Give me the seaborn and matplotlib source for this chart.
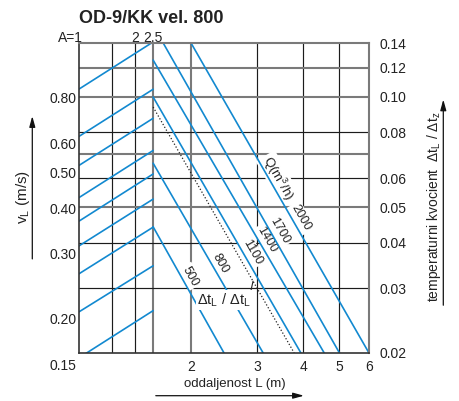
import numpy as np
import pandas as pd
import matplotlib
matplotlib.use("Agg")
import matplotlib.pyplot as plt
import seaborn as sns
from matplotlib.patches import FancyArrowPatch
from matplotlib.ticker import NullLocator

# ---------------- data ----------------
TITLE = "OD-9/KK vel. 800"
X_LABEL = "oddaljenost L (m)"
LEFT_LABEL = r"v$_\mathregular{L}$ (m/s)"
RIGHT_LABEL = r"temperaturni kvocient  Δt$_\mathregular{L}$ / Δt$_\mathregular{z}$"
REF_LABEL = r"Δt$_\mathregular{L}$ / Δt$_\mathregular{L}$"
Q_UNIT_LABEL = r"Q(m$^\mathregular{3}$/h)"

L_TICKS = [2, 3, 4, 5, 6]
L_TICK_LABELS = ["2", "3", "4", "5", "6"]
A_TICKS = [1, 2, 2.5]
A_TICK_LABELS = ["A=1", "2", "2.5"]
A_GRID_BLACK = [1.5, 2.0]
A_GRID_GRAY = [2.5]
L_GRID_GRAY = [2.0]
L_GRID_BLACK = [3.0, 4.0, 5.0]

DT_TICKS = [0.02, 0.03, 0.04, 0.05, 0.06, 0.08, 0.10, 0.12, 0.14]
DT_TICK_LABELS = ["0.02", "0.03", "0.04", "0.05", "0.06", "0.08", "0.10", "0.12", "0.14"]
DT_GRID_GRAY = [0.05, 0.07, 0.10, 0.12]
DT_GRID_BLACK = [0.03, 0.04, 0.06, 0.08]

V_TICKS = [0.15, 0.20, 0.30, 0.40, 0.50, 0.60, 0.80]
V_TICK_LABELS = ["0.15", "0.20", "0.30", "0.40", "0.50", "0.60", "0.80"]
V_PER_DT = 8.05          # v_L scale relative to the Δt scale

# rising lines in the A section: Δt at A=1 and at A=2.5
A_RANGE = [1.0, 2.5]
UP_DT_A1 = [0.1050, 0.0780, 0.0650, 0.0531, 0.0458, 0.0392, 0.0329, 0.0259, 0.0194]
UP_DT_A25 = [0.1412, 0.1049, 0.0874, 0.0714, 0.0616, 0.0526, 0.0441, 0.0346, 0.0261]

# falling Q lines
Q_VALUES = ["500", "800", "1100", "1400", "1700", "2000"]
Q_L_START = [1.581, 1.581, 1.581, 1.581, 1.684, 2.0]
Q_DT_START = [0.0442, 0.0659, 0.0999, 0.126, 0.14, 0.14]
Q_L_END = [2.45, 3.12, 3.94, 4.55, 5.0, 6.0]
Q_DT_END = [0.02, 0.02, 0.02, 0.02, 0.02, 0.02]
Q_LABEL_DT = [0.0324, 0.0352, 0.0377, 0.0409, 0.0431, 0.0467]
Q_UNIT_DT = 0.060

# dotted reference line
REF_L = [1.581, 3.78]
REF_DT = [0.0938, 0.02]
REF_LABEL_L = 2.449
REF_LABEL_DT = 0.0279
REF_POINT_DT = 0.0314

# ---------------- style ----------------
BLUE = "#1289d0"
GRID_GRAY = "#7a7a7a"
GRID_BLACK = "#1c1c1c"

sns.set_style("white")
plt.rcParams["font.family"] = ["Liberation Sans", "DejaVu Sans"]
plt.rcParams["mathtext.fontset"] = "custom"
plt.rcParams["mathtext.rm"] = "Liberation Sans"
plt.rcParams["mathtext.it"] = "Liberation Sans:italic"
plt.rcParams["mathtext.bf"] = "Liberation Sans:bold"
plt.rcParams["text.color"] = "#222222"

W, H = 460, 401
fig = plt.figure(figsize=(W / 100, H / 100), dpi=100)
ax = fig.add_axes([79 / W, 48 / H, 290 / W, 309.7 / H])
ax.set_xscale("log")
ax.set_yscale("log")


def fpx(x, y):
    return (x / W, 1 - y / H)


# grid
for a in A_GRID_BLACK:
    ax.axvline(np.sqrt(a), color=GRID_BLACK, lw=0.85, zorder=1)
for a in A_GRID_GRAY:
    ax.axvline(np.sqrt(a), color=GRID_GRAY, lw=1.5, zorder=1)
for v in L_GRID_BLACK:
    ax.axvline(v, color=GRID_BLACK, lw=0.85, zorder=1)
for v in L_GRID_GRAY:
    ax.axvline(v, color=GRID_GRAY, lw=1.5, zorder=1)
for v in DT_GRID_BLACK:
    ax.axhline(v, color=GRID_BLACK, lw=0.85, zorder=1)
for v in DT_GRID_GRAY:
    ax.axhline(v, color=GRID_GRAY, lw=1.5, zorder=1)

# rising lines (A section)
L_A = np.sqrt(A_RANGE)
up_df = pd.DataFrame({
    "L": np.tile(L_A, len(UP_DT_A1)),
    "dt": np.column_stack([UP_DT_A1, UP_DT_A25]).ravel(),
    "line": np.repeat(np.arange(len(UP_DT_A1)), 2),
})
sns.lineplot(data=up_df, x="L", y="dt", units="line", estimator=None, sort=False,
             color=BLUE, lw=1.2, ax=ax, legend=False, zorder=4)

# Q lines
q_df = pd.DataFrame({
    "L": np.column_stack([Q_L_START, Q_L_END]).ravel(),
    "dt": np.column_stack([Q_DT_START, Q_DT_END]).ravel(),
    "Q": np.repeat(Q_VALUES, 2),
})
sns.lineplot(data=q_df, x="L", y="dt", units="Q", estimator=None, sort=False,
             color=BLUE, lw=1.2, ax=ax, legend=False, zorder=4)

# dotted reference line
ref_df = pd.DataFrame({"L": REF_L, "dt": REF_DT})
sns.lineplot(data=ref_df, x="L", y="dt", estimator=None, sort=False, color="#222222",
             lw=0.9, linestyle=(0, (1.0, 1.6)), ax=ax, legend=False, zorder=4)

ax.set_xlim(1, 6)
ax.set_ylim(0.02, 0.14)
ax.set_xlabel("")
ax.set_ylabel("")

# ticks
ax.set_xticks(L_TICKS, L_TICK_LABELS)
ax.xaxis.set_minor_locator(NullLocator())
ax.yaxis.tick_right()
ax.set_yticks(DT_TICKS, DT_TICK_LABELS)
ax.yaxis.set_minor_locator(NullLocator())
ax.tick_params(axis="x", length=0, pad=5, labelsize=10, labelcolor="#222222")
ax.tick_params(axis="y", length=0, pad=7.5, labelsize=10, labelcolor="#222222")

for side in ["top", "right"]:
    ax.spines[side].set_color(GRID_GRAY)
    ax.spines[side].set_linewidth(1.5)
for side in ["left", "bottom"]:
    ax.spines[side].set_color("#333333")
    ax.spines[side].set_linewidth(1.2)
    ax.spines[side].set_visible(True)
for s in ax.spines.values():
    s.set_zorder(5)

# left v_L scale
for v, lab in zip(V_TICKS, V_TICK_LABELS):
    ax.annotate(lab, xy=(0, v / V_PER_DT), xycoords=("axes fraction", "data"),
                xytext=(-2.0, 0), textcoords="offset points", ha="right",
                va="center_baseline", fontsize=10, annotation_clip=False)

# top A scale
for a, lab in zip(A_TICKS, A_TICK_LABELS):
    first = lab.startswith("A")
    ax.annotate(lab, xy=(np.sqrt(a), 1), xycoords=("data", "axes fraction"),
                xytext=(3.0 if first else 0, 1.0), textcoords="offset points",
                ha="right" if first else "center", va="baseline", fontsize=10,
                annotation_clip=False)


def l_on_line(l0, d0, l1, d1, d):
    t = (np.log(d) - np.log(d0)) / (np.log(d1) - np.log(d0))
    return float(np.exp(np.log(l0) + t * (np.log(l1) - np.log(l0))))


# Q labels
for i, q in enumerate(Q_VALUES):
    p0 = ax.transData.transform((Q_L_START[i], Q_DT_START[i]))
    p1 = ax.transData.transform((Q_L_END[i], Q_DT_END[i]))
    ang = np.degrees(np.arctan2(p1[1] - p0[1], p1[0] - p0[0]))
    lx = l_on_line(Q_L_START[i], Q_DT_START[i], Q_L_END[i], Q_DT_END[i], Q_LABEL_DT[i])
    ax.annotate(q, xy=(lx, Q_LABEL_DT[i]), xytext=(6.8, 0), textcoords="offset points",
                rotation=ang, rotation_mode="anchor", ha="center", va="center",
                fontsize=9, zorder=3,
                bbox=dict(boxstyle="square,pad=0.15", fc="white", ec="none"))
    if q == Q_VALUES[-1]:
        ux = l_on_line(Q_L_START[i], Q_DT_START[i], Q_L_END[i], Q_DT_END[i], Q_UNIT_DT)
        ax.annotate(Q_UNIT_LABEL, xy=(ux, Q_UNIT_DT), xytext=(6.8, 0),
                    textcoords="offset points", rotation=ang, rotation_mode="anchor",
                    ha="center", va="center", fontsize=9.5, zorder=3,
                    bbox=dict(boxstyle="square,pad=0.15", fc="white", ec="none"))

# reference line label with leader
rx = l_on_line(REF_L[0], REF_DT[0], REF_L[1], REF_DT[1], REF_POINT_DT)
ax.annotate(REF_LABEL, xy=(rx, REF_POINT_DT), xytext=(REF_LABEL_L, REF_LABEL_DT),
            textcoords="data", ha="center", va="center", fontsize=10.5, zorder=6,
            bbox=dict(boxstyle="square,pad=0.1", fc="white", ec="none"),
            arrowprops=dict(arrowstyle="-", lw=0.8, color="#222222", shrinkA=0,
                            shrinkB=0, relpos=(1.0, 1.0)))

# titles and axis labels
fig.text(*fpx(79, 23), TITLE, fontsize=13, fontweight="bold", ha="left", va="baseline")
fig.text(*fpx(235, 387), X_LABEL, fontsize=9.5, ha="center", va="baseline")
fig.text(*fpx(32, 197), LEFT_LABEL, fontsize=11, rotation=90, ha="right", va="center")
fig.text(*fpx(443, 207), RIGHT_LABEL, fontsize=10, rotation=90, ha="right", va="center")

arrow_kw = dict(transform=fig.transFigure, arrowstyle="-|>,head_length=0.8,head_width=0.22",
                mutation_scale=8, lw=0.9, color="#111111")
fig.add_artist(FancyArrowPatch(fpx(153, 395.7), fpx(306.7, 395.7), **arrow_kw))
fig.add_artist(FancyArrowPatch(fpx(32.3, 261.7), fpx(32.3, 113.3), **arrow_kw))
fig.add_artist(FancyArrowPatch(fpx(443.3, 308), fpx(443.3, 96.7), **arrow_kw))

fig.savefig("out.png", dpi=100, facecolor="white")
